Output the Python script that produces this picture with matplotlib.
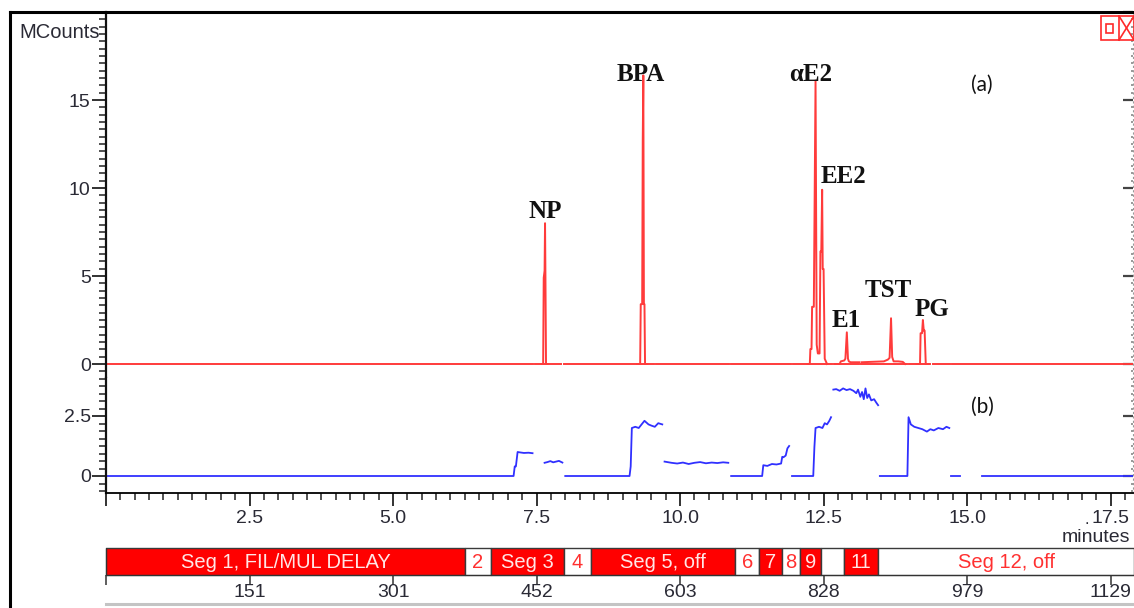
import numpy as np
import matplotlib
matplotlib.use("Agg")
import matplotlib.pyplot as plt
from matplotlib.patches import Rectangle
from matplotlib.lines import Line2D
from matplotlib.ticker import MultipleLocator, FixedLocator, FuncFormatter

plt.rcParams['font.family'] = ['Liberation Sans', 'DejaVu Sans']

W, H = 1134, 608
XMAX = 17.89

# ---- (a) red trace, MCounts vs minutes ----
# baseline breaks of the red trace (start, end) in minutes
red_gaps = [(7.43, 7.47), (7.93, 7.97), (9.54, 9.58), (10.86, 10.89),
            (11.93, 11.96), (12.64, 12.68), (13.12, 13.16), (13.95, 13.99),
            (14.36, 14.40), (14.70, 14.74)]

np_t = [7.59, 7.615, 7.625, 7.640, 7.648, 7.655, 7.665, 7.69]
np_y = [0.0, 0.0, 4.9, 5.3, 8.0, 4.9, 0.0, 0.0]

bpa_t = [9.25, 9.305, 9.315, 9.34, 9.35, 9.36, 9.37, 9.38, 9.39, 9.43]
bpa_y = [0.0, 0.0, 3.4, 3.4, 12.7, 16.4, 3.4, 3.4, 0.0, 0.0]

e2_t = [12.22, 12.26, 12.27, 12.29, 12.30, 12.33, 12.36, 12.38, 12.40,
        12.43, 12.445, 12.46, 12.475, 12.485, 12.50, 12.52, 12.56]
e2_y = [0.0, 0.0, 0.85, 0.85, 3.25, 3.25, 16.1, 1.1, 0.6,
        0.6, 6.4, 6.4, 9.9, 5.4, 5.4, 0.3, 0.0]

e1_t = [12.70, 12.78, 12.80, 12.86, 12.88, 12.905, 12.925, 12.94, 12.97, 13.12]
e1_y = [0.0, 0.0, 0.15, 0.2, 0.3, 1.8, 0.3, 0.15, 0.1, 0.1]

tst_t = [13.16, 13.55, 13.62, 13.65, 13.675, 13.695, 13.72, 13.80, 13.88, 13.92]
tst_y = [0.1, 0.15, 0.25, 0.35, 2.6, 0.4, 0.15, 0.15, 0.12, 0.0]

pg_t = [14.12, 14.18, 14.19, 14.215, 14.23, 14.245, 14.26, 14.28, 14.34]
pg_y = [0.0, 0.0, 1.75, 1.75, 2.5, 1.9, 1.9, 0.0, 0.0]

peak_names = ['NP', 'BPA', 'αE2', 'EE2', 'E1', 'TST', 'PG']
name_x = [7.65, 9.31, 12.27, 12.84, 12.89, 13.62, 14.39]
name_y = [8.3, 16.1, 16.1, 10.3, 2.1, 3.8, 2.73]

# ---- (b) blue trace, segments separated by gaps ----
b1_t = [0.0, 7.10, 7.12, 7.14, 7.17, 7.22, 7.28, 7.36, 7.43]
b1_y = [0.0, 0.0, 0.4, 0.4, 1.0, 0.98, 0.96, 0.97, 0.95]
b2_t = [7.64, 7.69, 7.74, 7.79, 7.84, 7.89, 7.95]
b2_y = [0.55, 0.58, 0.62, 0.57, 0.6, 0.63, 0.56]
b3_t = [8.00, 9.12, 9.14, 9.16, 9.22, 9.28, 9.33, 9.38, 9.45, 9.50, 9.56, 9.62, 9.69]
b3_y = [0.0, 0.0, 0.4, 2.0, 2.05, 2.0, 2.15, 2.3, 2.15, 2.1, 2.05, 2.2, 2.15]
b4_t = [9.73, 9.85, 9.95, 10.05, 10.15, 10.25, 10.35, 10.45, 10.55, 10.65, 10.75, 10.84]
b4_y = [0.6, 0.55, 0.52, 0.56, 0.5, 0.55, 0.58, 0.53, 0.56, 0.54, 0.57, 0.55]
b5_t = [10.89, 11.43, 11.45, 11.52, 11.60, 11.68, 11.76, 11.78, 11.80, 11.84, 11.87, 11.90]
b5_y = [0.0, 0.0, 0.45, 0.42, 0.5, 0.48, 0.52, 0.8, 0.78, 0.85, 1.15, 1.25]
b6_t = [11.95, 12.32, 12.34, 12.36, 12.42, 12.48, 12.52, 12.56, 12.60, 12.63]
b6_y = [0.0, 0.0, 1.2, 2.0, 2.05, 2.0, 2.2, 2.15, 2.3, 2.45]
b7_t = [12.67, 12.72, 12.78, 12.84, 12.90, 12.96, 13.02, 13.07, 13.10, 13.14,
        13.17, 13.20, 13.23, 13.26, 13.29, 13.33, 13.38, 13.42, 13.45]
b7_y = [3.6, 3.62, 3.55, 3.65, 3.58, 3.62, 3.55, 3.45, 3.6, 3.3,
        3.5, 3.2, 3.65, 3.25, 3.4, 3.15, 3.2, 3.05, 2.95]
b8_t = [13.48, 13.96, 13.98, 14.02, 14.08, 14.15, 14.22, 14.30, 14.36, 14.42,
        14.50, 14.58, 14.64, 14.69]
b8_y = [0.0, 0.0, 2.45, 2.15, 2.05, 2.0, 1.95, 1.85, 1.95, 1.9,
        2.0, 1.95, 2.05, 2.0]
b9_t = [14.72, 14.88]
b9_y = [0.0, 0.0]
b10_t = [15.26, XMAX]
b10_y = [0.0, 0.0]

# ---- segment bar and scan axis ----
seg_start = [0.0, 6.26, 6.70, 7.97, 8.45, 10.96, 11.38, 11.78, 12.09, 12.46, 12.86, 13.45]
seg_label = ['Seg 1, FIL/MUL DELAY', '2', 'Seg 3', '4', 'Seg 5, off', '6', '7', '8',
             '9', '', '11', 'Seg 12, off']
seg_on = [1, 0, 1, 0, 1, 0, 1, 0, 1, 0, 1, 0]

time_ticks = [0, 2.5, 5.0, 7.5, 10.0, 12.5, 15.0, 17.5]
scan_labels = ['', '151', '301', '452', '603', '828', '979', '1129']

RED = '#ff3b3b'
BLUE = '#3030ff'
TXT = '#2a2a35'


def fx(px):
    return px / W


def fy(py):
    return 1 - py / H


fig = plt.figure(figsize=(W / 100, H / 100), dpi=100)
x0, x1 = 106, 1133
ax_a = fig.add_axes([fx(x0), fy(378), fx(x1) - fx(x0), fy(12) - fy(378)])
ax_b = fig.add_axes([fx(x0), fy(493), fx(x1) - fx(x0), fy(378) - fy(493)])
ax_s = fig.add_axes([fx(x0), fy(575), fx(x1) - fx(x0), fy(548) - fy(575)])

# red trace
edges = [0.0] + [g[1] for g in red_gaps]
ends = [g[0] for g in red_gaps] + [XMAX]
for s, e in zip(edges, ends):
    ax_a.plot([s, e], [0, 0], color=RED, lw=1.4)
for t, y in [(np_t, np_y), (bpa_t, bpa_y), (e2_t, e2_y), (e1_t, e1_y),
             (tst_t, tst_y), (pg_t, pg_y)]:
    ax_a.plot(t, y, color=RED, lw=1.4)
for name, x, y in zip(peak_names, name_x, name_y):
    ax_a.text(x, y, name, ha='center', va='baseline', fontsize=18,
              fontweight='bold', family='Liberation Serif', color='#111111')
ax_a.text(15.26, 15.85, '(a)', ha='center', va='center', fontsize=15,
          family='Lato', color='#111111')

# blue trace
for t, y in [(b1_t, b1_y), (b2_t, b2_y), (b3_t, b3_y), (b4_t, b4_y), (b5_t, b5_y),
             (b6_t, b6_y), (b7_t, b7_y), (b8_t, b8_y), (b9_t, b9_y), (b10_t, b10_y)]:
    ax_b.plot(t, y, color=BLUE, lw=1.3)
ax_b.text(15.26, 2.88, '(b)', ha='center', va='center', fontsize=15,
          family='Lato', color='#111111')

ax_a.set_xlim(0, XMAX)
ax_b.set_xlim(0, XMAX)
ax_a.set_ylim(-0.795, 20)
ax_b.set_ylim(-17 / 24, 98 / 24)

for ax in (ax_a, ax_b):
    for side in ('top', 'right', 'bottom'):
        ax.spines[side].set_visible(False)
    ax.spines['left'].set_linewidth(1.6)
    ax.spines['left'].set_color('#111111')
    ax.tick_params(axis='y', which='major', direction='out', length=10, width=1.3,
                   labelsize=14, pad=1, color='#222222', labelcolor=TXT)
    ax.tick_params(axis='y', which='minor', direction='out', length=5, width=1.1,
                   color='#222222')

ax_a.tick_params(axis='x', bottom=False, labelbottom=False, which='both')
ax_a.yaxis.set_major_locator(FixedLocator([0, 5, 10, 15, 20]))
ax_a.yaxis.set_major_formatter(FuncFormatter(lambda v, p: '' if v >= 20 else f'{v:g}'))
ax_a.yaxis.set_minor_locator(MultipleLocator(5 / 12))

ax_b.yaxis.set_major_locator(FixedLocator([0, 2.5]))
ax_b.yaxis.set_major_formatter(FuncFormatter(lambda v, p: f'{v:g}'))
ax_b.yaxis.set_minor_locator(MultipleLocator(0.3125))
ax_b.spines['bottom'].set_visible(True)
ax_b.spines['bottom'].set_linewidth(1.3)
ax_b.xaxis.set_major_locator(FixedLocator(time_ticks))
ax_b.xaxis.set_major_formatter(FuncFormatter(lambda v, p: '' if v == 0 else f'{v:.1f}'))
ax_b.xaxis.set_minor_locator(MultipleLocator(0.25))
ax_b.tick_params(axis='x', which='major', direction='out', length=9, width=1.3,
                 labelsize=14, pad=3, color='#222222', labelcolor=TXT)
ax_b.tick_params(axis='x', which='minor', direction='out', length=5, width=1.1,
                 color='#222222')

# right edge: dotted line with inward ticks
for ax, majors, minor in ((ax_a, [0, 5, 10, 15, 20], 5 / 12), (ax_b, [0, 2.5], 0.3125)):
    sec = ax.secondary_yaxis('right')
    sec.set_yticks(majors)
    sec.yaxis.set_minor_locator(MultipleLocator(minor))
    sec.tick_params(which='major', direction='in', length=7, width=1.6,
                    color='#444444', labelright=False)
    sec.tick_params(which='minor', direction='in', length=1.5, width=1.2,
                    color='#888888')
    sec.spines['right'].set_linestyle((0, (1, 3)))
    sec.spines['right'].set_color('#999999')

fig.text(fx(100), fy(32), 'MCounts', ha='right', va='center', fontsize=14.5, color=TXT)
fig.text(fx(1130), fy(537), 'minutes', ha='right', va='center', fontsize=14, color=TXT)
fig.text(fx(1087), fy(519), '.', ha='center', va='center', fontsize=12, color=TXT)

# segment bar
ax_s.set_xlim(0, XMAX)
ax_s.set_ylim(0, 1)
seg_end = seg_start[1:] + [XMAX + 0.02]
for s, e, lab, on in zip(seg_start, seg_end, seg_label, seg_on):
    ax_s.add_patch(Rectangle((s, 0), e - s, 1, facecolor='#ff0000' if on else 'white',
                             edgecolor='#3a3a3a', lw=1.0, clip_on=False))
    ax_s.text((s + e) / 2, 0.48, lab, ha='center', va='center', fontsize=14.5,
              color='#ffe6e6' if on else '#ff3030')
for side in ('top', 'right'):
    ax_s.spines[side].set_visible(False)
ax_s.spines['left'].set_color('#333333')
ax_s.spines['bottom'].set_color('#333333')
ax_s.set_yticks([])
ax_s.xaxis.set_major_locator(FixedLocator(time_ticks))
ax_s.set_xticklabels(scan_labels)
ax_s.tick_params(axis='x', direction='out', length=7.5, width=1.1, color='#333333',
                 labelsize=14, pad=-1, labelcolor=TXT)

# frame, bottom rule and window icons
fig.add_artist(Line2D([fx(10), fx(10)], [fy(12), fy(608)], color='black', lw=2.2))
fig.add_artist(Line2D([fx(10), fx(1134)], [fy(12), fy(12)], color='black', lw=2.2))
fig.add_artist(Line2D([fx(106), fx(1134)], [fy(604), fy(604)], color='#c4c4c4', lw=2.2))
icon = '#ff2a2a'
fig.add_artist(Rectangle((fx(1101), fy(40)), fx(1134) - fx(1101), fy(16) - fy(40),
                         transform=fig.transFigure, fill=False, ec=icon, lw=1.2))
fig.add_artist(Line2D([fx(1119), fx(1119)], [fy(16), fy(40)], color=icon, lw=1.2))
fig.add_artist(Rectangle((fx(1106), fy(33)), fx(1113) - fx(1106), fy(24) - fy(33),
                         transform=fig.transFigure, fill=False, ec=icon, lw=1.2))
fig.add_artist(Line2D([fx(1119), fx(1134)], [fy(16), fy(40)], color=icon, lw=1.2))
fig.add_artist(Line2D([fx(1119), fx(1134)], [fy(40), fy(16)], color=icon, lw=1.2))

fig.savefig('out.png', dpi=100)
